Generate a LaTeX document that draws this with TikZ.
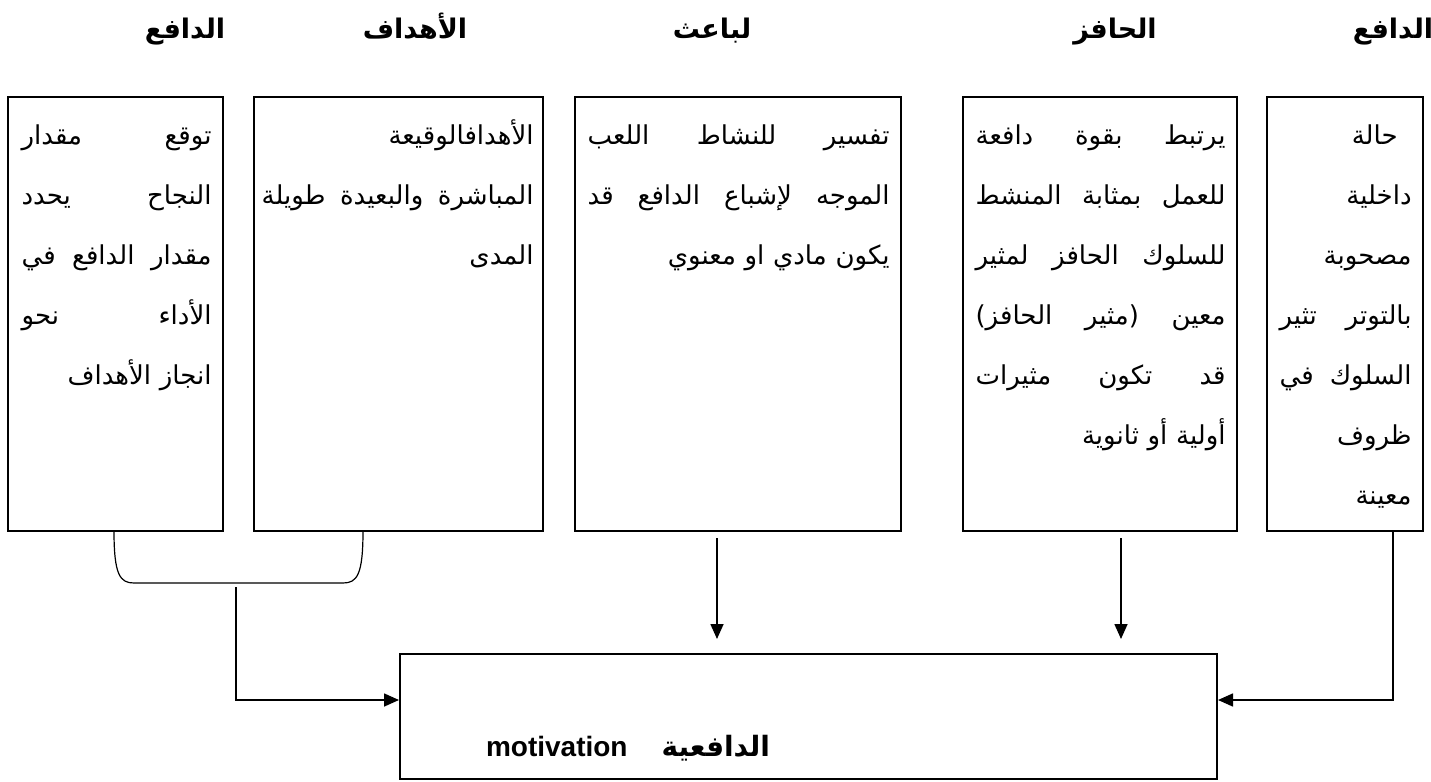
\documentclass[tikz,border=0pt]{standalone}
\usepackage{fontspec}
\setmainfont{Liberation Sans}
\newfontfamily\arabicfont[Script=Arabic]{DejaVu Sans}
\TeXXeTstate=1
\usetikzlibrary{arrows.meta}
\newcommand{\ar}[1]{\beginR#1\endR}
\begin{document}
\begin{tikzpicture}[x=0.5pt,y=-0.5pt,
  box/.style={draw,line width=1pt,inner sep=0pt,minimum height=217pt},
  txt/.style={anchor=north east,inner sep=0pt,align=right,font=\arabicfont\fontsize{13}{30}\selectfont},
  head/.style={anchor=base,font=\arabicfont\bfseries\fontsize{13.5}{15}\selectfont},
  link/.style={line width=0.8pt},
  arr/.style={link,-{Triangle[length=7.5pt,width=6.5pt]}}]
\useasboundingbox (0,0) rectangle (1431,782);
% headers
\node[head] (hA) at (1393,38) {\ar{الدافع}};
\node[head] (hB) at (1115,38) {\ar{الحافز}};
\node[head] (hC) at (712,38) {\ar{لباعث}};
\node[head] (hD) at (415,38) {\ar{الأهداف}};
\node[head] (hE) at (185,38) {\ar{الدافع}};
% boxes
\node[box,minimum width=78pt] (dafA) at (1345,314) {};
\node[box,minimum width=137pt] (hafez) at (1100,314) {};
\node[box,minimum width=163pt] (baeth) at (738,314) {};
\node[box,minimum width=144.5pt] (ahdaf) at (398.5,314) {};
\node[box,minimum width=107.5pt] (dafB) at (115.5,314) {};
\node[box,minimum width=408.5pt,minimum height=62.5pt] (mot) at (808.5,716.5) {};
% texts
\node[txt,text width=66pt] (tA) at ([shift={(-6pt,-3pt)}]dafA.north east) {%
\strut\ar{\hspace*{7pt}حالة}\\
\ar{داخلية}\\
\ar{مصحوبة}\\
\ar{بالتوتر\hfill تثير}\\
\ar{السلوك\hfill في}\\
\ar{ظروف}\\
\ar{معينة}};
\node[txt,text width=125pt] (tB) at ([shift={(-6pt,-3pt)}]hafez.north east) {%
\strut\ar{يرتبط\hfill بقوة\hfill دافعة}\\
\ar{للعمل\hfill بمثابة\hfill المنشط}\\
\ar{للسلوك\hfill الحافز\hfill لمثير}\\
\ar{معين\hfill (مثير\hfill الحافز)}\\
\ar{قد\hfill تكون\hfill مثيرات}\\
\ar{أولية أو ثانوية}};
\node[txt,text width=151pt] (tC) at ([shift={(-6pt,-3pt)}]baeth.north east) {%
\strut\ar{تفسير\hfill للنشاط\hfill اللعب}\\
\ar{الموجه\hfill لإشباع\hfill الدافع\hfill قد}\\
\ar{يكون مادي او معنوي}};
\node[txt,text width=136pt] (tD) at ([shift={(-5pt,-3pt)}]ahdaf.north east) {%
\strut\ar{الأهدافالوقيعة}\\
\ar{المباشرة\hfill والبعيدة\hfill طويلة}\\
\ar{المدى}};
\node[txt,text width=95pt] (tE) at ([shift={(-6pt,-3pt)}]dafB.north east) {%
\strut\ar{توقع\hfill مقدار}\\
\ar{النجاح\hfill يحدد}\\
\ar{مقدار\hfill الدافع\hfill في}\\
\ar{الأداء\hfill نحو}\\
\ar{انجاز الأهداف}};
\node[font=\bfseries\fontsize{14}{16}\selectfont] (tM) at (628,748) {motivation\hspace{17pt}{\arabicfont\ar{الدافعية}}};
% connectors
\draw[link,line width=0.6pt] (114,531) .. controls (114,575) and (120,583) .. (134,583) -- (343,583) .. controls (357,583) and (363,575) .. (363,531);
\coordinate (brk) at (236,587);
\draw[arr] (brk) |- ([yshift=8.25pt]mot.west);
\draw[arr,shorten <=3pt,shorten >=7pt] ([xshift=-10.5pt]baeth.south) -- ([xshift=-10.5pt]baeth.south |- mot.north);
\draw[arr,shorten <=3pt,shorten >=7pt] ([xshift=10.5pt]hafez.south) -- ([xshift=10.5pt]hafez.south |- mot.north);
\draw[arr] ([xshift=24pt]dafA.south) |- ([yshift=8.25pt]mot.east);
\end{tikzpicture}
\end{document}
